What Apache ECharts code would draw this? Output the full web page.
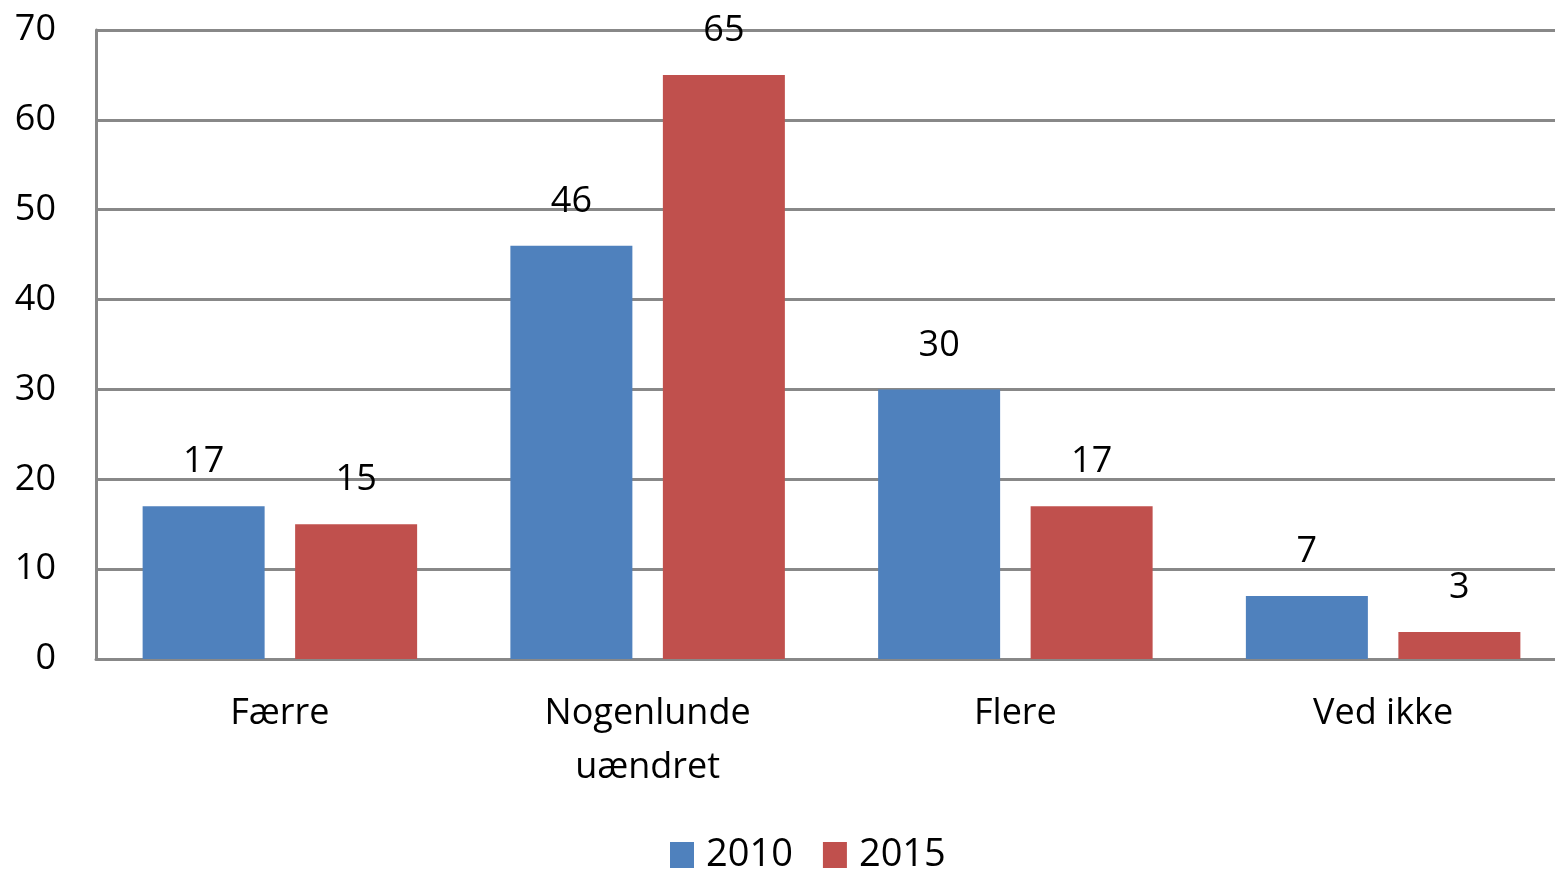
<!DOCTYPE html>
<html>
<head>
<meta charset="utf-8">
<script src="https://cdn.jsdelivr.net/npm/echarts@6/dist/echarts.min.js"></script>
<style>
  html, body { margin: 0; padding: 0; background: #fff; overflow: hidden; }
  #chart { width: 1567px; height: 873px; }
</style>
</head>
<body>
<div id="chart"></div>
<script>
// kategorier og værdier
const categories = ['Færre', 'Nogenlunde\nuændret', 'Flere', 'Ved ikke'];
const values2010 = [17, 46, 30, 7];
const values2015 = [15, 65, 17, 3];
const seriesNames = ['2010', '2015'];

const chart = echarts.init(document.getElementById('chart'));
const font = 'Open Sans';

const option = {
  animation: false,
  textStyle: { fontFamily: font },
  // plotområdet fortsætter lidt ud over højre kant som i originalen
  grid: { left: 96, right: 0, top: 30, bottom: 214 },
  legend: {
    top: 836,
    left: 670,
    padding: 0,
    itemWidth: 24,
    itemHeight: 26,
    itemGap: 30,
    icon: 'rect',
    textStyle: { fontSize: 38, color: '#000', fontFamily: font, padding: [0, 0, 0, 7] },
    data: seriesNames
  },
  xAxis: {
    type: 'category',
    data: categories,
    axisLine: { lineStyle: { color: '#888', width: 3 } },
    axisTick: { show: false },
    axisLabel: { color: '#000', fontSize: 36, margin: 28, lineHeight: 54, fontFamily: font }
  },
  yAxis: {
    type: 'value',
    min: 0,
    max: 70,
    interval: 10,
    axisLine: { show: true, lineStyle: { color: '#888', width: 3 } },
    axisTick: { show: false },
    splitLine: { lineStyle: { color: '#888', width: 3 } },
    axisLabel: { color: '#000', fontSize: 36, margin: 40, fontFamily: font }
  },
  series: [
    {
      name: seriesNames[0],
      type: 'bar',
      data: values2010,
      barWidth: 122,
      barGap: '25%',
      itemStyle: { color: '#4F81BD' },
      label: { show: true, position: 'top', distance: 26, fontSize: 36, color: '#000', fontFamily: font }
    },
    {
      name: seriesNames[1],
      type: 'bar',
      data: values2015,
      barWidth: 122,
      itemStyle: { color: '#C0504D' },
      label: { show: true, position: 'top', distance: 26, fontSize: 36, color: '#000', fontFamily: font }
    }
  ]
};
chart.setOption(option);
</script>
</body>
</html>
